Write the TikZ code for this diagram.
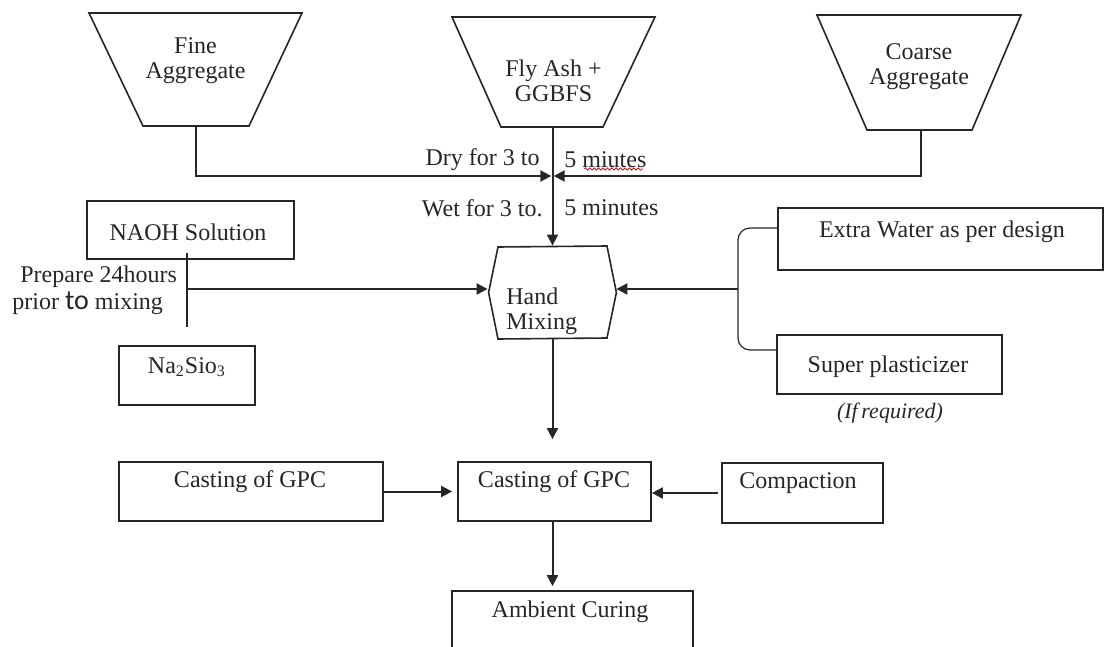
\documentclass[tikz,border=0pt]{standalone}
\usepackage{fontspec}
\setmainfont{Liberation Serif}
\newfontfamily\calibri{Carlito}
\usetikzlibrary{arrows.meta,decorations.pathmorphing}
\begin{document}
\begin{tikzpicture}[x=0.5pt,y=-0.5pt,
  font=\fontsize{12}{12.5}\selectfont,
  shapeline/.style={draw=black!85, line width=0.8pt, line join=miter},
  box/.style={draw=black!85, line width=0.9pt, inner sep=0pt},
  txt/.style={inner sep=0pt, text=black!85},
  conn/.style={draw=black!85, line width=1pt, -{Triangle[length=5.5pt,width=5.5pt]}},
  thinline/.style={draw=black!85, line width=0.6pt}]
\useasboundingbox (0,0) rectangle (1105,647);
\clip (0,0) rectangle (1105,647);

% hoppers
\draw[shapeline] (89,13) -- (302,13) -- (249,126) -- (143,126) -- cycle;
\coordinate (fineS) at (196,126);
\node[txt, align=center] (fine) at (195.5,61) {Fine\\Aggregate};

\draw[shapeline] (452,17) -- (655,17) -- (603,127) -- (501,127) -- cycle;
\coordinate (flyS) at (552.5,127);
\node[txt, align=center] (fly) at (553.5,81) {Fly Ash +\\GGBFS};

\draw[shapeline] (817,15) -- (1021,15) -- (972,130) -- (867,130) -- cycle;
\coordinate (coarseS) at (921,130);
\node[txt, align=center] (coarse) at (919,67) {Coarse\\Aggregate};

% hand mixing
\node[inner sep=0pt, minimum width=63.5pt, minimum height=46.5pt] (mix) at (552.5,292.5) {};
\draw[shapeline] (498,247) -- (607,246) -- (mix.east) -- (607,338) -- (498,339) -- (mix.west) -- cycle;
\node[txt, align=left, anchor=west] (mixT) at (506,311.5) {Hand\\Mixing};

% junction
\coordinate (junc) at (552.5,176);
\draw[conn, shorten >=0.6pt] (fineS) |- (junc);
\draw[conn, shorten >=0.6pt] (coarseS) |- (junc);
\draw[conn] (flyS) -- (flyS |- mix.north);

\node[txt, anchor=east] (dry) at (540,160) {Dry for 3 to};
\node[txt, anchor=west] (dry5) at (564,160) {5 miutes};
\draw[red!70!black, line width=0.35pt, decorate, decoration={snake, amplitude=0.6pt, segment length=2.2pt}] (584,169) -- (643,169);
\node[txt, anchor=east] (wet) at (543,208) {Wet for 3 to.};
\node[txt, anchor=west] (wet5) at (564,208) {5 minutes};

% left inputs
\node[box, minimum width=103.5pt, minimum height=29pt] (naoh) at (190.5,230) {};
\node[txt] (naohT) at (188,232) {NAOH Solution};
\node[box, minimum width=68pt, minimum height=29.5pt] (nasio) at (187,375.5) {};
\node[txt] (nasioT) at (187,367) {Na\textsubscript{2}Sio\textsubscript{3}};
\coordinate (vtop) at (187,253);
\coordinate (vbot) at (187,327);
\coordinate (vmid) at (187,289);
\draw[thinline] (vtop) -- (vbot);
\draw[conn, shorten >=0.5pt] (vmid) -- (vmid -| mix.west);
\node[txt, anchor=west] (prep1) at (20,277) {Prepare 24hours};
\node[txt, anchor=west] (prep2) at (12,303) {prior {\calibri\fontsize{14}{14}\selectfont to} mixing};

% right inputs
\node[box, minimum width=162.5pt, minimum height=31pt] (water) at (940.5,239) {};
\node[txt] (waterT) at (942,232) {Extra Water as per design};
\node[box, minimum width=112.5pt, minimum height=29.5pt] (plast) at (889.5,364.5) {};
\node[txt] (plastT) at (888,367) {Super plasticizer};
\node[txt, font=\fontsize{11}{11}\selectfont\itshape] (ifreq) at (890,413) {(If\,required)};
\coordinate (wj) at (778,228);
\coordinate (pj) at (777,350);
\coordinate (br) at (738,289);
\draw[thinline, rounded corners=6pt] (wj) -| (br) |- (pj);
\draw[conn] (br) -- (br -| mix.east);

% casting row
\node[box, minimum width=132pt, minimum height=29.5pt] (castL) at (251,491.5) {};
\node[txt] (castLT) at (250,482) {Casting of GPC};
\node[box, minimum width=96.5pt, minimum height=29.5pt] (castC) at (554.5,491.5) {};
\node[txt] (castCT) at (554,482) {Casting of GPC};
\node[box, minimum width=80.5pt, minimum height=30pt] (compact) at (802.5,493) {};
\node[txt] (compactT) at (798,483) {Compaction};
\node[box, minimum width=120.5pt, minimum height=54.5pt] (ambient) at (572.5,645.5) {};
\node[txt] (ambientT) at (570,612) {Ambient Curing};

\draw[conn, shorten >=11pt] (mix.south) -- (mix.south |- castC.north);
\draw[conn, shorten >=2.5pt] (castL.east) -- (castL.east -| castC.west);
\draw[conn, shorten <=1.5pt] (compact.west) -- (compact.west -| castC.east);
\draw[conn, shorten >=2pt] (mix.south |- castC.south) -- (mix.south |- ambient.north);
\end{tikzpicture}
\end{document}
